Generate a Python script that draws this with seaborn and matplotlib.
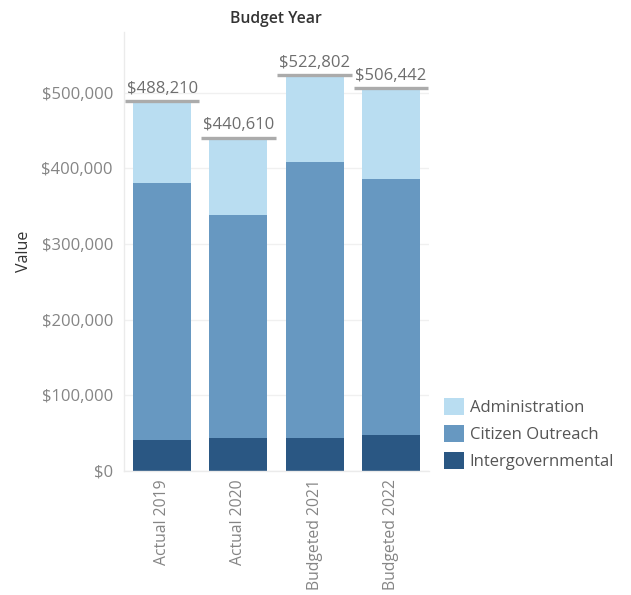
import matplotlib
matplotlib.use("Agg")
import matplotlib.pyplot as plt
from matplotlib.patches import Patch
from matplotlib.ticker import FuncFormatter, FixedLocator
import seaborn as sns
import pandas as pd

# Budget data by year and program
years = ["Actual 2019", "Actual 2020", "Budgeted 2021", "Budgeted 2022"]
totals = [488210, 440610, 522802, 506442]
intergovernmental = [41000, 43700, 43700, 47600]
citizen_outreach = [339000, 294900, 365000, 338600]
administration = [t - i - c for t, i, c in zip(totals, intergovernmental, citizen_outreach)]

series_names = ["Administration", "Citizen Outreach", "Intergovernmental"]
colors = {"Administration": "#b9ddf1",
          "Citizen Outreach": "#6798c1",
          "Intergovernmental": "#2a5783"}

# Cumulative tops for stacking (outermost segment drawn first)
df = pd.DataFrame({
    "year": years,
    "Intergovernmental": intergovernmental,
    "Citizen Outreach": [i + c for i, c in zip(intergovernmental, citizen_outreach)],
    "Administration": [i + c + a for i, c, a in zip(intergovernmental, citizen_outreach, administration)],
})

sns.set_style("white")
plt.rcParams["font.family"] = ["Open Sans", "DejaVu Sans"]

fig = plt.figure(figsize=(6.31, 5.95), dpi=100)
ax = fig.add_axes([124 / 631, 1 - 471 / 595, 305 / 631, 439 / 595])

for name in series_names:
    sns.barplot(data=df, x="year", y=name, color=colors[name], width=0.76,
                saturation=1, linewidth=0, edgecolor="none", ax=ax, zorder=2)

# Total marker lines and labels
for i, t in enumerate(totals):
    ax.hlines(t, i - 0.49, i + 0.49, color="#ababab", linewidth=2.4, zorder=4)
    ax.text(i, t + 5500, f"${t:,.0f}", ha="center", va="bottom",
            fontsize=12, color="#6e6e6e", zorder=5)

ax.set_xlim(-0.5, 3.5)
ax.set_ylim(0, 580000)
ax.yaxis.set_major_locator(FixedLocator([0, 100000, 200000, 300000, 400000, 500000]))
ax.yaxis.set_major_formatter(FuncFormatter(lambda v, _: f"${v:,.0f}"))

ax.grid(axis="y", color="#f0f0f0", linewidth=1, zorder=0)
ax.set_axisbelow(True)
for side in ["top", "right"]:
    ax.spines[side].set_visible(False)
for side in ["left", "bottom"]:
    ax.spines[side].set_color("#ebebeb")
    ax.spines[side].set_linewidth(1)

ax.tick_params(axis="y", length=5, width=1, color="#ebebeb", pad=3,
               labelsize=12, labelcolor="#858585")
ax.tick_params(axis="x", which="major", length=0, pad=6,
               labelsize=11.3, labelcolor="#858585", labelrotation=90)
ax.set_xticks([-0.5, 0.5, 1.5, 2.5, 3.5], minor=True)
ax.tick_params(axis="x", which="minor", length=5, width=1, color="#ebebeb")

ax.set_xlabel("")
ax.set_ylabel("Value", fontsize=11.5, color="#333333")
ax.yaxis.set_label_coords(-0.301, 0.5)

fig.text(276 / 631, 1 - 19 / 595, "Budget Year", ha="center", va="center",
         fontsize=11.3, fontweight="semibold", color="#333333")

handles = [Patch(facecolor=colors[n], edgecolor="none", label=n) for n in series_names]
fig.legend(handles=handles, loc="upper left",
           bbox_to_anchor=(437 / 631, 1 - 391 / 595), frameon=False,
           fontsize=12, handlelength=1.2, handleheight=1.2,
           handletextpad=0.35, labelspacing=0.55, borderaxespad=0,
           labelcolor="#555555")

fig.savefig("out.png", dpi=100)
